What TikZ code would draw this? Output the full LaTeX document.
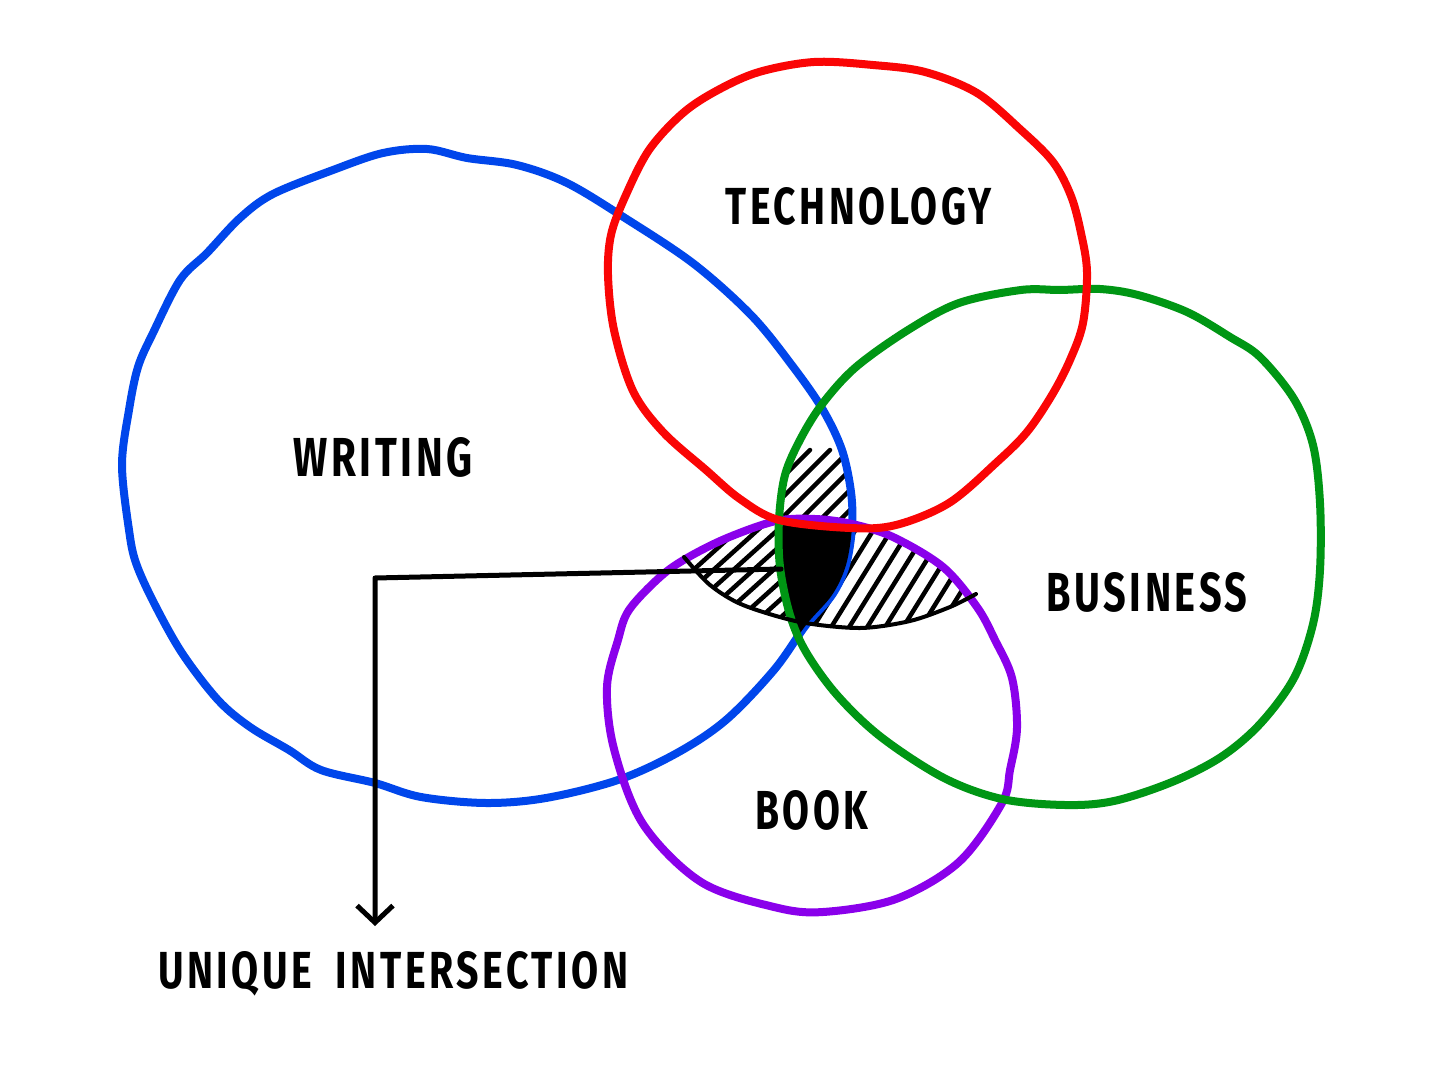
\documentclass[tikz,border=0pt]{standalone}
\usepackage{fontspec}
\setmainfont{Fira Sans}
\newfontfamily\handfont{Fira Sans}[LetterSpace=9]
\usepackage{graphicx}
\usetikzlibrary{arrows.meta}
\definecolor{cblue}{RGB}{0,70,235}
\definecolor{cred}{RGB}{250,5,5}
\definecolor{cgreen}{RGB}{0,150,20}
\definecolor{cpurple}{RGB}{138,0,235}
\def\bluepath{plot[smooth cycle, tension=0.55] coordinates {(122,465) (129,410) (138,367) (153,333) (180,280) (207,253) (240,218) (273,194) (333,170) (383,153) (427,149) (467,158) (517,165) (567,183) (625,218) (694,264) (752,316) (794,368) (823,410) (842,450) (851,492) (852,527) (846,565) (832,595) (806,625) (774,670) (726,720) (677,753) (618,780) (546,798) (486,803) (421,797) (375,783) (321,770) (289,750) (250,727) (218,700) (182,653) (154,603) (136,563) (129,530)}}
\def\redpath{plot[smooth cycle, tension=0.55] coordinates {(608,275) (611,235) (625,197) (649,150) (683,113) (718,90) (759,72) (814,62) (873,65) (925,72) (977,93) (1021,130) (1053,162) (1071,196) (1081,233) (1087,272) (1083,323) (1070,360) (1052,395) (1027,432) (997,462) (949,503) (896,525) (850,528) (779,520) (740,499) (706,470) (663,432) (633,391) (614,330)}}
\def\greenpath{plot[smooth cycle, tension=0.55] coordinates {(823,403) (856,367) (908,330) (959,303) (1021,290) (1060,290) (1100,289) (1138,295) (1187,312) (1230,337) (1260,357) (1294,399) (1313,445) (1320,503) (1320,570) (1313,624) (1294,678) (1260,724) (1221,757) (1172,782) (1114,801) (1065,805) (1002,799) (944,778) (881,737) (837,695) (806,652) (790,615) (780,567) (779,520) (785,475) (801,438)}}
\def\purplepath{plot[smooth cycle, tension=0.55] coordinates {(815,519) (852,524) (893,537) (943,567) (977,607) (995,640) (1012,678) (1017,728) (1010,770) (1002,803) (959,862) (896,899) (823,912) (774,907) (701,882) (643,824) (614,749) (607,687) (618,640) (629,610) (660,577) (687,558) (727,538) (776,521)}}
\def\arcpts{(684,557) (710,585) (743,605) (800,622) (860,628) (910,621) (950,607) (976,594)}
\def\abovearc{plot[smooth] coordinates {\arcpts} -- (976,450) -- (684,450) -- cycle}
\def\wholepage{(0,0) rectangle (1448,1086)}
\begin{document}
\begin{tikzpicture}[x=1pt,y=-1pt,
  ring/.style={line width=8pt, line join=round},
  hatch/.style={line width=4.5pt, line cap=round, black},
  lbl/.style={inner sep=0pt, font=\handfont\bfseries},
  leader/.style={line width=5pt, line cap=round, line join=round},
  arcline/.style={line width=4pt, line cap=round}]
\useasboundingbox \wholepage;
\fill[white] \wholepage;
% lower-left hatch: Writing & Book, above arc
\begin{scope}
  \clip \bluepath; \clip \purplepath; \clip \abovearc;
  \foreach \c in {580,600,...,840} \draw[hatch] (\c-111,700) -- (\c+111,500);
\end{scope}
% lower-right hatch: Business & Book, above arc
\begin{scope}
  \clip \greenpath; \clip \purplepath; \clip \abovearc;
  \foreach \c in {740,758,...,1010} \draw[hatch] (\c-62,700) -- (\c+62,500);
\end{scope}
% upper hatch: Writing & Technology & Business
\begin{scope}
  \clip \bluepath; \clip \greenpath; \clip \redpath;
  \fill[white] (700,380) rectangle (900,560);
  \foreach \c in {560,580,...,800} \draw[hatch] (\c-150,750) -- (\c+150,450);
\end{scope}
\draw[ring, cblue] \bluepath;
% black region: Writing & Business & Book
\begin{scope}
  \clip \bluepath; \clip \greenpath; \clip \purplepath;
  \fill[black] (700,480) rectangle (900,700);
\end{scope}
\draw[ring, cpurple] \purplepath;
\draw[ring, cgreen] \greenpath;
\draw[ring, cred] \redpath;
\draw[arcline] plot[smooth] coordinates {\arcpts};
% labels
\node[lbl] (tech) at (859,206) {\resizebox{266pt}{37pt}{TECHNOLOGY}};
\node[lbl] (writing) at (383,457) {\resizebox{179pt}{39pt}{WRITING}};
\node[lbl] (business) at (1147,592) {\resizebox{201pt}{39pt}{BUSINESS}};
\node[lbl] (book) at (812,810) {\resizebox{113pt}{39pt}{BOOK}};
\node[lbl, anchor=north west] (ui) at (158,951) {\resizebox{470pt}{37pt}{UNIQUE\hspace{0.6em}INTERSECTION}};
% leader
\coordinate (hub) at (781,569);
\coordinate (corner) at (375,578);
\draw[leader, -{Straight Barb[length=17pt, width=36pt, line width=5pt]}, shorten >=25pt]
  (hub) -- (corner) -- (corner |- ui.north);
\end{tikzpicture}
\end{document}
